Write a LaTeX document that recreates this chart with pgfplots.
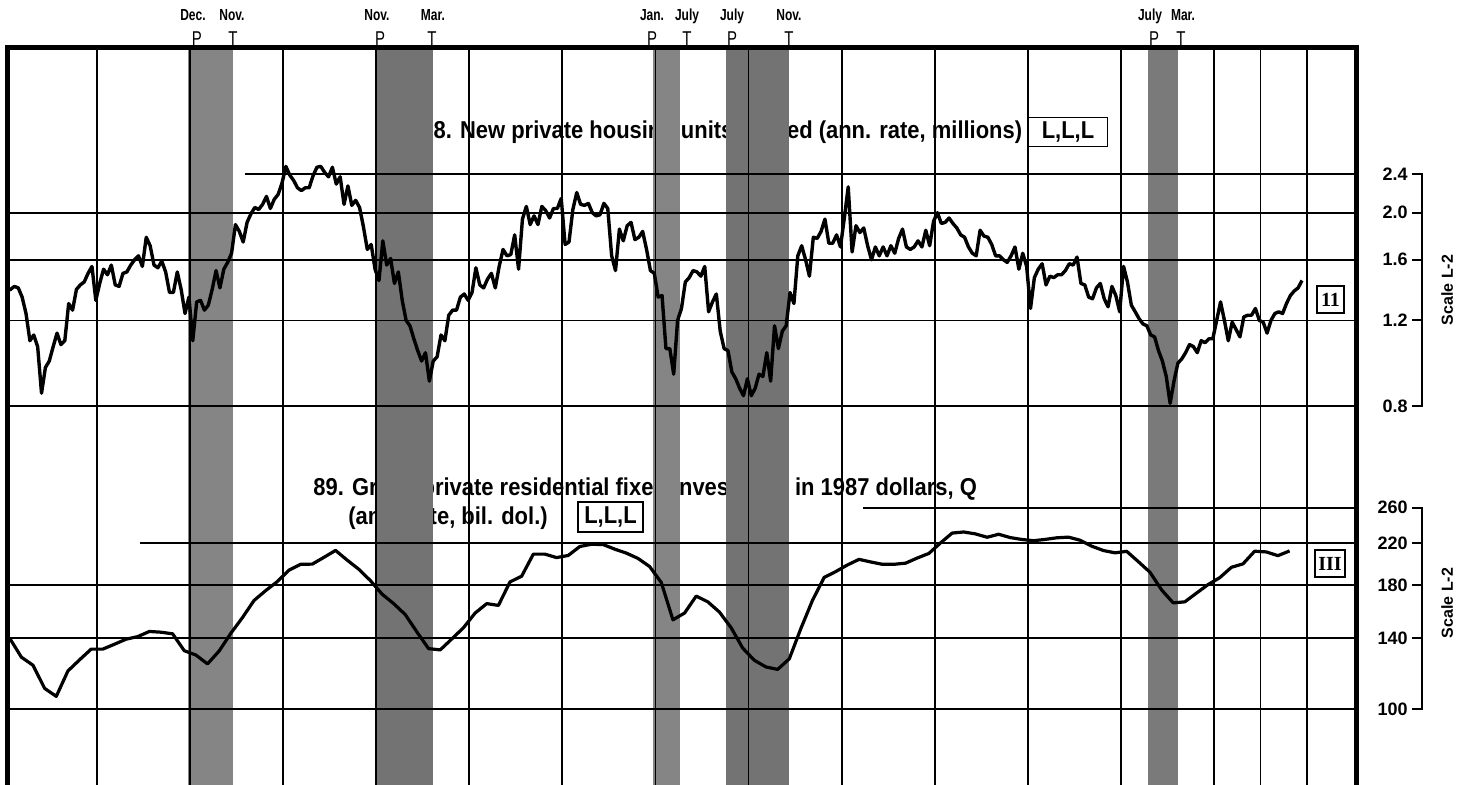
\documentclass[border=0pt]{standalone}
\usepackage{fontspec}
\setmainfont{Liberation Sans}
\newfontfamily\cond[FakeStretch=0.75]{Liberation Sans}
\newfontfamily\ttlfont[FakeStretch=0.9]{Liberation Sans}
\newfontfamily\serifb{Liberation Serif}
\usepackage{pgfplots}
\usepackage{pgfplotstable}
\pgfplotsset{compat=1.18}

% 28. housing starts, monthly, Jan 1966 - Nov 1993 (millions, ann. rate)
\pgfplotstableread[row sep=\\]{v\\
1.38\\1.39\\1.41\\1.40\\1.34\\1.24\\1.09\\1.12\\1.06\\0.85\\0.96\\0.99\\
1.06\\1.13\\1.07\\1.09\\1.30\\1.26\\1.39\\1.42\\1.44\\1.50\\1.55\\1.32\\
1.43\\1.53\\1.49\\1.56\\1.42\\1.41\\1.50\\1.51\\1.56\\1.60\\1.63\\1.55\\
1.78\\1.71\\1.56\\1.54\\1.59\\1.51\\1.37\\1.37\\1.51\\1.39\\1.24\\1.34\\
1.09\\1.31\\1.32\\1.26\\1.29\\1.39\\1.52\\1.40\\1.53\\1.58\\1.65\\1.89\\
1.83\\1.74\\1.91\\1.99\\2.05\\2.03\\2.08\\2.16\\2.04\\2.13\\2.18\\2.30\\
2.49\\2.39\\2.33\\2.25\\2.22\\2.25\\2.25\\2.38\\2.48\\2.49\\2.42\\2.37\\
2.48\\2.29\\2.37\\2.08\\2.27\\2.07\\2.12\\2.05\\1.87\\1.68\\1.72\\1.53\\
1.45\\1.75\\1.56\\1.61\\1.43\\1.51\\1.32\\1.20\\1.17\\1.10\\1.04\\0.99\\
1.03\\0.90\\0.99\\1.01\\1.12\\1.09\\1.23\\1.26\\1.26\\1.34\\1.36\\1.32\\
1.37\\1.54\\1.42\\1.40\\1.46\\1.50\\1.40\\1.55\\1.68\\1.63\\1.64\\1.80\\
1.53\\1.94\\2.06\\1.89\\1.97\\1.89\\2.06\\2.02\\1.95\\2.04\\2.04\\2.14\\
1.72\\1.74\\2.03\\2.20\\2.08\\2.07\\2.09\\2.00\\1.97\\1.98\\2.09\\2.04\\
1.63\\1.52\\1.85\\1.75\\1.88\\1.91\\1.76\\1.78\\1.83\\1.68\\1.52\\1.50\\
1.34\\1.35\\1.05\\1.05\\0.93\\1.20\\1.27\\1.44\\1.47\\1.52\\1.51\\1.48\\
1.55\\1.25\\1.31\\1.36\\1.14\\1.05\\1.04\\0.94\\0.91\\0.87\\0.84\\0.91\\
0.84\\0.87\\0.93\\0.92\\1.03\\0.90\\1.17\\1.05\\1.14\\1.17\\1.37\\1.30\\
1.63\\1.71\\1.60\\1.48\\1.78\\1.77\\1.83\\1.94\\1.73\\1.73\\1.80\\1.70\\
1.95\\2.26\\1.66\\1.88\\1.82\\1.86\\1.71\\1.60\\1.70\\1.63\\1.70\\1.63\\
1.71\\1.65\\1.77\\1.85\\1.70\\1.68\\1.70\\1.75\\1.70\\1.84\\1.71\\1.92\\
2.00\\1.90\\1.91\\1.95\\1.90\\1.86\\1.80\\1.78\\1.70\\1.65\\1.63\\1.84\\
1.79\\1.78\\1.72\\1.63\\1.63\\1.60\\1.58\\1.63\\1.70\\1.53\\1.65\\1.55\\
1.27\\1.47\\1.53\\1.57\\1.42\\1.48\\1.47\\1.49\\1.49\\1.52\\1.57\\1.56\\
1.62\\1.43\\1.42\\1.34\\1.33\\1.40\\1.43\\1.33\\1.28\\1.41\\1.35\\1.25\\
1.55\\1.44\\1.29\\1.25\\1.21\\1.18\\1.17\\1.12\\1.11\\1.04\\0.99\\0.92\\
0.81\\0.90\\0.98\\1.00\\1.03\\1.07\\1.06\\1.03\\1.09\\1.08\\1.10\\1.10\\
1.20\\1.31\\1.20\\1.09\\1.19\\1.15\\1.11\\1.22\\1.23\\1.23\\1.27\\1.20\\
1.19\\1.13\\1.20\\1.24\\1.25\\1.24\\1.30\\1.35\\1.38\\1.40\\1.45\\
}\starts

% 89. residential fixed investment, quarterly, 1966Q1 - 1993Q3 (bil. 1987 dol.)
\pgfplotstableread[row sep=\\]{v\\
140\\128\\123.2\\110.4\\
106.3\\119.9\\126.4\\133\\
133\\136.1\\139.4\\141.1\\
144.6\\144.1\\143\\132\\
129.3\\124\\131.8\\143.3\\
154.4\\167.5\\175.5\\183.2\\
193.4\\198.8\\199\\205.4\\
212.3\\202.8\\194.2\\184\\
172.6\\165\\156.6\\144.2\\
133.3\\132.5\\139.6\\147.2\\
157.8\\165\\163.6\\182.9\\
187.9\\208.6\\208.6\\205.2\\
207.3\\216.3\\218.6\\218.3\\
213.6\\209.6\\204.4\\196.7\\
182.4\\152.8\\157.8\\171\\
166.4\\158.5\\147.2\\133.6\\
126.1\\122.2\\120.8\\127\\
146.7\\167.7\\186.8\\192.1\\
198.2\\203.5\\201\\198.8\\
198.8\\199.9\\204.8\\209.3\\
220\\230.5\\231.7\\229.6\\
226\\229.2\\225.6\\223.6\\
222.3\\223.7\\225.4\\226.1\\
222.8\\216.6\\212.2\\209.9\\
211.4\\201.3\\191.5\\176.1\\
165.6\\166.4\\173.4\\180.6\\
186.6\\196\\199.2\\211.5\\
210.8\\207.1\\211.8\\
}\resinv

\newcommand\ttl{\ttlfont\fontsize{12.2}{14}\selectfont\bfseries}
\newcommand\mon{\cond\fontsize{8}{9}\selectfont\bfseries}
\newcommand\pfont{\cond\fontsize{10}{11}\selectfont}
\newcommand\tickf{\fontsize{9}{10}\selectfont\bfseries}

\begin{document}
\begin{tikzpicture}
\useasboundingbox (0,0) rectangle (736.5pt,392.5pt);

% titles first, so the recession bands lie over them
\begin{scope}[x=0.5pt,y=-0.5pt,shift={(0pt,392.5pt)}]
\node[anchor=base west, inner sep=0, font=\ttl] at (421,139) {28. New private housing units started (ann. rate, millions)};
\node[draw, line width=0.8pt, inner sep=0, minimum width=39.5pt, minimum height=14.5pt, font=\ttl] at (1068,132) {L,L,L};
\node[anchor=base west, inner sep=0, font=\ttl] at (313,496) {89. Gross private residential fixed investment in 1987 dollars, Q};
\node[anchor=base west, inner sep=0, font=\ttl] at (348,525) {(ann. rate, bil. dol.)};
\node[draw, line width=0.8pt, inner sep=0, minimum width=32.5pt, minimum height=15pt, font=\ttl] at (610.5,517) {L,L,L};
\end{scope}

\begin{axis}[
  at={(3.75pt,0pt)}, anchor=south west,
  scale only axis, width=674.5pt, height=368.75pt,
  xmin=1966.077, xmax=1995.063,
  ymode=log, ymin=0.13274, ymax=4.375,
  hide axis, clip=false,
]
% recession bands
\fill[black!48] (axis cs:1969.955,0.13274) rectangle (axis cs:1970.922,4.375);
\fill[black!55] (axis cs:1973.973,0.13274) rectangle (axis cs:1975.22,4.375);
\fill[black!48] (axis cs:1979.947,0.13274) rectangle (axis cs:1980.527,4.375);
\fill[black!55] (axis cs:1981.515,0.13274) rectangle (axis cs:1982.869,4.375);
\fill[black!52] (axis cs:1990.583,0.13274) rectangle (axis cs:1991.228,4.375);
% year rules
\pgfplotsinvokeforeach{1968,1970,1972,1974,1976,1978,1980,1982,1984,1986,1988,1990,1992,1993,1994}{
  \draw[line width=0.9pt] (axis cs:#1,0.13274) -- (axis cs:#1,4.375);
}
% horizontal rules, upper panel
\draw[line width=0.9pt] (axis cs:1971.18,2.4) -- (axis cs:1995.063,2.4);
\draw[line width=0.9pt] (axis cs:1966.077,2.0) -- (axis cs:1995.063,2.0);
\draw[line width=0.9pt] (axis cs:1966.077,1.6) -- (axis cs:1995.063,1.6);
\draw[line width=0.9pt] (axis cs:1966.077,1.2) -- (axis cs:1995.063,1.2);
\draw[line width=0.9pt] (axis cs:1966.077,0.8) -- (axis cs:1995.063,0.8);
% frame, open at the bottom
\draw[line width=2.8pt, line join=miter] (rel axis cs:0,0) -- (rel axis cs:0,1) -- (rel axis cs:1,1) -- (rel axis cs:1,0);
\addplot[black, line width=1.7pt, line join=round] table[x expr={1966+(\coordindex+0.7)/12}, y=v] {\starts};
% scale bracket
\draw[line width=1pt] (axis cs:1996.255,2.4) -- (axis cs:1996.47,2.4) -- (axis cs:1996.47,0.8) -- (axis cs:1996.255,0.8);
\draw[line width=1pt] (axis cs:1996.255,2.0) -- (axis cs:1996.47,2.0);
\draw[line width=1pt] (axis cs:1996.255,1.6) -- (axis cs:1996.47,1.6);
\draw[line width=1pt] (axis cs:1996.255,1.2) -- (axis cs:1996.47,1.2);
\node[anchor=east, inner sep=0, font=\tickf] at (axis cs:1996.17,2.4) {2.4};
\node[anchor=east, inner sep=0, font=\tickf] at (axis cs:1996.17,2.0) {2.0};
\node[anchor=east, inner sep=0, font=\tickf] at (axis cs:1996.17,1.6) {1.6};
\node[anchor=east, inner sep=0, font=\tickf] at (axis cs:1996.17,1.2) {1.2};
\node[anchor=east, inner sep=0, font=\tickf] at (axis cs:1996.17,0.8) {0.8};
\node[rotate=90, inner sep=0, font=\fontsize{8}{9}\selectfont\bfseries] at (axis cs:1997.01,1.386) {Scale L-2};
\node[draw, line width=0.9pt, inner sep=0, minimum size=13.5pt, font=\serifb\fontsize{10}{10}\selectfont\bfseries] at (axis cs:1994.504,1.325) {11};
\end{axis}

\begin{axis}[
  at={(3.75pt,0pt)}, anchor=south west,
  scale only axis, width=674.5pt, height=368.75pt,
  xmin=1966.077, xmax=1995.063,
  ymode=log, ymin=69.856, ymax=2302.5,
  hide axis, clip=false,
]
\draw[line width=0.9pt] (axis cs:1984.46,260) -- (axis cs:1995.063,260);
\draw[line width=0.9pt] (axis cs:1968.92,220) -- (axis cs:1995.063,220);
\draw[line width=0.9pt] (axis cs:1966.077,180) -- (axis cs:1995.063,180);
\draw[line width=0.9pt] (axis cs:1966.077,140) -- (axis cs:1995.063,140);
\draw[line width=0.9pt] (axis cs:1966.077,100) -- (axis cs:1995.063,100);
\addplot[black, line width=1.6pt, line join=round] table[x expr={1966+(\coordindex+0.5)/4}, y=v] {\resinv};
\draw[line width=1pt] (axis cs:1996.255,260) -- (axis cs:1996.47,260) -- (axis cs:1996.47,100) -- (axis cs:1996.255,100);
\draw[line width=1pt] (axis cs:1996.255,220) -- (axis cs:1996.47,220);
\draw[line width=1pt] (axis cs:1996.255,180) -- (axis cs:1996.47,180);
\draw[line width=1pt] (axis cs:1996.255,140) -- (axis cs:1996.47,140);
\node[anchor=east, inner sep=0, font=\tickf] at (axis cs:1996.17,260) {260};
\node[anchor=east, inner sep=0, font=\tickf] at (axis cs:1996.17,220) {220};
\node[anchor=east, inner sep=0, font=\tickf] at (axis cs:1996.17,180) {180};
\node[anchor=east, inner sep=0, font=\tickf] at (axis cs:1996.17,140) {140};
\node[anchor=east, inner sep=0, font=\tickf] at (axis cs:1996.17,100) {100};
\node[rotate=90, inner sep=0, font=\fontsize{8}{9}\selectfont\bfseries] at (axis cs:1997.01,165.5) {Scale L-2};
\node[draw, line width=0.9pt, inner sep=0, minimum width=15pt, minimum height=13.5pt, font=\serifb\fontsize{10}{10}\selectfont\bfseries] at (axis cs:1994.494,199.6) {III};
\end{axis}

% peak and trough dates
\begin{scope}[x=0.5pt,y=-0.5pt,shift={(0pt,392.5pt)}]
\foreach \x/\t in {193/Dec., 232/Nov., 377/Nov., 433/Mar., 652/Jan., 687/July, 732/July, 789/Nov., 1150/July, 1183/Mar.}
  \node[anchor=base, inner sep=0, font=\mon] at (\x,21) {\t};
\foreach \x/\t in {197/P, 233/T, 380/P, 432/T, 652/P, 687/T, 732/P, 789/T, 1154/P, 1181/T}
  \node[anchor=base, inner sep=0, font=\pfont] at (\x,46) {\t};
\end{scope}
\end{tikzpicture}
\end{document}
